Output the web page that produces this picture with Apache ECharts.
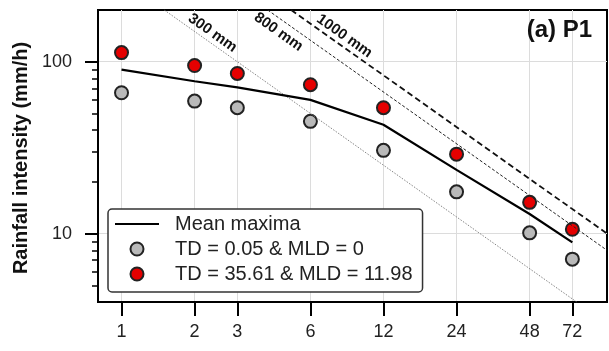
<!DOCTYPE html>
<html>
<head>
<meta charset="utf-8">
<script src="https://cdn.jsdelivr.net/npm/echarts@6.0.0/dist/echarts.min.js"></script>
<style>
  html, body { margin: 0; padding: 0; background: #fff; }
  #chart { width: 609px; height: 351px; }
</style>
</head>
<body>
<div id="chart"></div>
<script>
// durations (h) and rainfall intensities (mm/h)
const durations = [1, 2, 3, 6, 12, 24, 48, 72];
const meanMaxima = [90, 77, 71, 60, 43, 23.5, 13, 8.9];
const tdLow = [66, 59, 54, 45, 30.5, 17.5, 10.1, 7.1];
const tdHigh = [113, 95, 85.5, 73.5, 54, 29, 15.2, 10.6];

// isodepth lines, end points in data units
const depth300 = [[1.5, 200], [75, 4]];
const depth800 = [[4, 200], [100, 8]];
const depth1000 = [[5, 200], [100, 10]];

const yMajor = [10, 100];
const yMinor = [5, 6, 7, 8, 9, 20, 30, 40, 50, 60, 70, 80, 90];

const FONT = 'Liberation Sans, Arial, sans-serif';
const pairs = (ys) => durations.map((d, i) => [d, ys[i]]);

const myChart = echarts.init(document.getElementById('chart'));

myChart.setOption({
  animation: false,
  backgroundColor: '#fff',
  title: {
    text: '(a) P1',
    right: 17,
    top: 18,
    padding: 0,
    textStyle: { fontFamily: FONT, fontSize: 24, fontWeight: 'bold', color: '#111' }
  },
  grid: {
    left: 98, right: 2, top: 10, bottom: 49,
    show: true, borderColor: '#000', borderWidth: 2
  },
  legend: {
    orient: 'vertical',
    left: 108,
    top: 209,
    data: [
      { name: 'Mean maxima', icon: 'path://M0,0H44V2.2H0Z', itemStyle: { color: '#000', borderWidth: 0 } },
      'TD = 0.05 & MLD = 0',
      'TD = 35.61 & MLD = 11.98'
    ],
    itemWidth: 44,
    itemHeight: 13,
    itemGap: 5,
    padding: [5, 10, 8, 7],
    backgroundColor: '#fff',
    borderColor: '#333',
    borderWidth: 1.5,
    borderRadius: 4,
    textStyle: { fontFamily: FONT, fontSize: 20, color: '#222', padding: [0, 0, 0, 11] }
  },
  xAxis: {
    type: 'log',
    min: 0.8,
    max: 100,
    axisLine: { lineStyle: { color: '#000', width: 2 } },
    axisTick: { customValues: durations, length: 14, lineStyle: { color: '#000', width: 2 } },
    axisLabel: { customValues: durations, margin: 21, fontFamily: FONT, fontSize: 18, color: '#222' },
    splitLine: { show: true, lineStyle: { color: '#dcdcdc', width: 1 } }
  },
  yAxis: [
    {
      type: 'log',
      min: 4,
      max: 200,
      name: 'Rainfall intensity (mm/h)',
      nameLocation: 'middle',
      nameGap: 66,
      nameTextStyle: { fontFamily: FONT, fontSize: 20, fontWeight: 'bold', color: '#111', padding: [0, 4, 0, 0] },
      axisLine: { show: true, lineStyle: { color: '#000', width: 2 } },
      axisTick: { customValues: yMajor, length: 13, lineStyle: { color: '#000', width: 2 } },
      axisLabel: { customValues: yMajor, margin: 26, fontFamily: FONT, fontSize: 18, color: '#222' },
      splitLine: { show: true, lineStyle: { color: '#dcdcdc', width: 1 } }
    },
    {
      type: 'log',
      min: 4,
      max: 200,
      position: 'left',
      axisLine: { show: false },
      axisTick: { customValues: yMinor, length: 6, lineStyle: { color: '#000', width: 1.5 } },
      axisLabel: { show: false },
      splitLine: { show: false }
    }
  ],
  series: [
    {
      name: '300 mm', type: 'line', data: depth300, symbol: 'none', silent: true,
      lineStyle: { color: '#777', width: 0.9, type: [1.5, 1.5] }
    },
    {
      name: '800 mm', type: 'line', data: depth800, symbol: 'none', silent: true,
      lineStyle: { color: '#222', width: 1, type: [3, 2] }
    },
    {
      name: '1000 mm', type: 'line', data: depth1000, symbol: 'none', silent: true,
      lineStyle: { color: '#111', width: 1.8, type: [6, 3.5] }
    },
    {
      name: 'Mean maxima', type: 'line', data: pairs(meanMaxima), symbol: 'none',
      lineStyle: { color: '#000', width: 2.2 }, itemStyle: { color: '#000' }
    },
    {
      name: 'TD = 0.05 & MLD = 0', type: 'scatter', data: pairs(tdLow), symbolSize: 13,
      itemStyle: { color: '#b9b9b9', borderColor: '#222', borderWidth: 2, opacity: 1 }
    },
    {
      name: 'TD = 35.61 & MLD = 11.98', type: 'scatter', data: pairs(tdHigh), symbolSize: 13,
      itemStyle: { color: '#e50000', borderColor: '#222', borderWidth: 2, opacity: 1 }
    }
  ]
});

// isodepth labels, rotated along the lines
const p0 = myChart.convertToPixel({ gridIndex: 0 }, depth300[0]);
const p1 = myChart.convertToPixel({ gridIndex: 0 }, depth300[1]);
const angle = -Math.atan2(p1[1] - p0[1], p1[0] - p0[0]);
const depthLabels = [
  { text: '300 mm', at: [2.37, 147] },
  { text: '800 mm', at: [4.43, 149] },
  { text: '1000 mm', at: [8.28, 141] }
];
myChart.setOption({
  graphic: depthLabels.map((l) => {
    const p = myChart.convertToPixel({ gridIndex: 0 }, l.at);
    return {
      type: 'text',
      x: p[0], y: p[1],
      rotation: angle,
      z: 10,
      style: {
        text: l.text, fill: '#111', font: 'bold 15px ' + FONT,
        align: 'center', verticalAlign: 'middle'
      }
    };
  })
});
</script>
</body>
</html>
